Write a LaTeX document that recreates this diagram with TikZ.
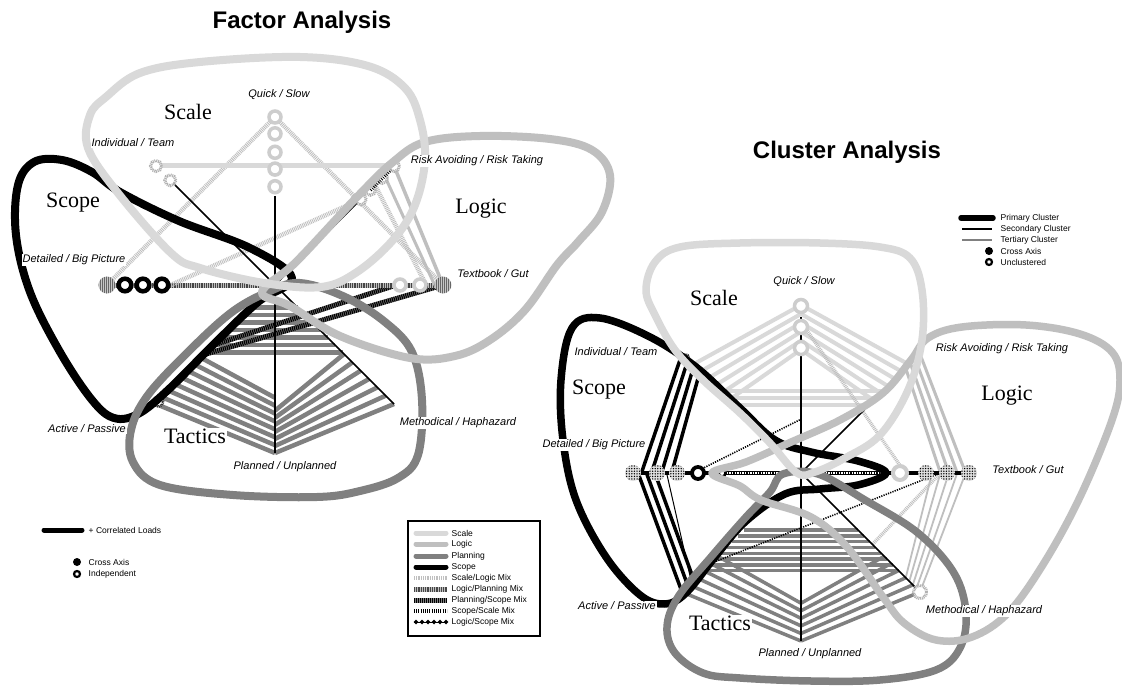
\documentclass[tikz,border=0pt]{standalone}
\usepackage{fontspec}
\setmainfont{Liberation Sans}
\newfontfamily\serifF{Liberation Serif}
\usetikzlibrary{calc,patterns.meta}
\definecolor{cScale}{HTML}{D9D9D9}
\definecolor{cLogic}{HTML}{BFBFBF}
\definecolor{cPlan}{HTML}{808080}
\definecolor{cRing}{HTML}{CDCDCD}
\tikzset{
 lp/.style={line width=8pt, line join=round},
 lab/.style={font=\fontsize{11}{13}\selectfont\itshape, fill=white, inner sep=0.8pt},
 big/.style={font=\serifF\fontsize{22}{26}\selectfont, fill=white, inner sep=1pt},
 ttl/.style={font=\bfseries\fontsize{24}{28}\selectfont, inner sep=0pt},
 leg/.style={font=\fontsize{8.5}{10}\selectfont, anchor=west, inner sep=0.5pt},
 planW/.style={draw=cPlan, line width=4.5pt},
 scaleW/.style={draw=cScale, line width=4pt},
 logicW/.style={draw=cLogic, line width=3pt},
 scopeW/.style={draw=black, line width=3.5pt},
 thinB/.style={draw=black, line width=1.5pt},
 dotB/.style={draw=black, line width=1.6pt, dash pattern=on 1.2pt off 1.2pt},
 mixSL/.style={draw=gray!50, line width=4.5pt, dash pattern=on 0.9pt off 0.9pt},
 mixLP/.style={draw=cLogic, line width=5pt, postaction={draw=gray!55!black, line width=5pt, dash pattern=on 0.9pt off 0.9pt}},
 mixPS/.style={draw=cPlan, line width=5pt, postaction={draw=black, line width=5pt, dash pattern=on 1.2pt off 0.8pt}},
 mixSS/.style={draw=black, line width=4.5pt, dash pattern=on 0.8pt off 1.4pt},
 mixLSsw/.style={draw=black, line width=1pt},
 ringS/.style={draw=cRing, line width=3.5pt, fill=white},
 ringH/.style={draw=gray!60, line width=3pt, fill=white, dash pattern=on 1pt off 0.8pt},
 ringHD/.style={draw=gray!40!black, line width=2.5pt, fill=white, dash pattern=on 1pt off 0.8pt},
 ringB/.style={draw=black, line width=4.5pt, fill=white},
 hatD/.style={fill=gray!45, postaction={pattern={Lines[angle=90,distance=2pt,line width=0.9pt]}, pattern color=black!60}},
 dotD/.style={fill=gray!25, postaction={pattern={Dots[distance=2.6pt,radius=0.75pt]}, pattern color=black}},
}
\begin{document}
\begin{tikzpicture}[x=1pt,y=-1pt]
\useasboundingbox[fill=white] (0,0) rectangle (1122,687);

% ================= LEFT: FACTOR ANALYSIS =================
\coordinate (L0) at (275,285);
\coordinate (LQ) at (275,117);
\coordinate (LR) at (394,166);
\coordinate (LT) at (443,285);
\coordinate (LM) at (394,404);
\coordinate (LP) at (275,453);
\coordinate (LA) at (156,404);
\coordinate (LD) at (107,285);
\coordinate (LI) at (156,166);

% planning stripes
\foreach \k [evaluate=\k as \fa using 1-0.055*\k, evaluate=\k as \fb using 1-0.047*\k] in {0,...,7}
  \draw[planW] ($(L0)!\fa!(LA)$) -- ($(L0)!\fb!(LP)$);
\foreach \k [evaluate=\k as \fa using 1-0.042*\k, evaluate=\k as \fb using 1-0.07*\k] in {0,...,6}
  \draw[planW] ($(L0)!\fa!(LP)$) -- ($(L0)!\fb!(LM)$);
\foreach \k [evaluate=\k as \fa using 0.19+0.063*\k] in {0,...,6}
  \draw[planW] ($(L0)!\fa!(LA)$) -- ($(L0)!\fa!(LM)$);

% mixed lines
\draw[mixPS] (LT) -- ($(L0)!0.58!(LA)$);
\draw[mixPS] ($(L0)!0.72!(LT)$) -- ($(L0)!0.5!(LA)$);
\draw[mixLP] (LD) -- (LT);
\draw[mixSL] (LQ) -- (LD);
\draw[mixSL] (LQ) -- (LT);
\draw[mixSL] ($(L0)!0.72!(LR)$) -- ($(L0)!0.62!(LD)$);
\draw[draw=cLogic, line width=3.5pt] (LR) -- (LT);
\draw[draw=cLogic, line width=3pt] ($(L0)!0.92!(LR)$) -- ($(L0)!0.95!(LT)$);
\draw[mixSL] ($(L0)!0.84!(LR)$) -- ($(L0)!0.9!(LT)$);
\draw[scaleW, line width=5pt] (LI) -- (LR);

% black thin
\draw[thinB] ($(L0)!0.53!(LQ)$) -- (LP);
\draw[thinB] (L0) -- ($(L0)!0.88!(LI)$);
\draw[thinB] (L0) -- ($(L0)!0.7!(LR)$);
\draw[thinB] (L0) -- (LM);
\draw[thinB] (L0) -- ($(L0)!0.97!(LA)$);

% circles
\foreach \f in {1,0.9,0.79,0.69,0.585}
  \draw[ringS] ($(L0)!\f!(LQ)$) circle (6pt);
\draw[ringH] (LI) circle (5.5pt);
\draw[ringH] ($(L0)!0.88!(LI)$) circle (5.5pt);
\foreach \f in {1,0.9,0.8,0.72}
  \draw[ringH] ($(L0)!\f!(LR)$) circle (5.5pt);
\draw[mixSS] ($(L0)!0.8!(LR)$) -- ($(L0)!0.97!(LR)$);
\path[hatD] (LD) circle (8.5pt);
\foreach \f in {0.893,0.786,0.673}
  \draw[ringB] ($(L0)!\f!(LD)$) circle (6.3pt);
\path[hatD] (LT) circle (8.5pt);
\foreach \f in {0.744,0.863}
  \draw[ringS] ($(L0)!\f!(LT)$) circle (6pt);
\draw[ringHD] ($(L0)!0.98!(LA)$) circle (5pt);

% loops
\draw[lp, black] plot[smooth cycle, tension=0.6] coordinates {(292,278) (250,248) (179,221) (120,192) (92,172) (62,160) (34,162) (18,185) (16,235) (30,292) (60,352) (92,400) (114,418) (138,414) (168,390) (215,343) (258,302)};
\draw[lp, cPlan] plot[smooth cycle, tension=0.6] coordinates {(268,292) (300,283) (345,297) (385,322) (412,352) (422,400) (418,455) (398,478) (360,491) (317,497) (233,495) (160,485) (133,462) (131,430) (148,395) (190,350) (232,312)};
\draw[lp, cLogic] plot[smooth cycle, tension=0.6] coordinates {(262,292) (296,262) (357,197) (393,162) (425,142) (480,136) (550,139) (592,150) (610,175) (602,212) (578,242) (557,265) (525,310) (490,340) (455,356) (410,358) (340,336) (290,306)};
\draw[lp, cScale] plot[smooth cycle, tension=0.6] coordinates {(264,283) (200,268) (171,253) (118,193) (88,148) (90,115) (106,97) (140,73) (200,62) (300,57) (368,66) (405,88) (420,120) (425,160) (415,205) (393,240) (357,272) (321,287)};

% labels
\node[ttl] (t1) at (302,22) {Factor Analysis};
\node[lab] (lq) at (279,95) {Quick / Slow};
\node[lab] (li) at (133,143) {Individual / Team};
\node[lab] (lr) at (477,161) {Risk Avoiding / Risk Taking};
\node[lab] (lt) at (493,274) {Textbook / Gut};
\node[lab] (ld) at (74,260) {Detailed / Big Picture};
\node[lab] (la) at (87,429) {Active / Passive};
\node[lab] (lm) at (458,423) {Methodical / Haphazard};
\node[lab] (lpl) at (285,467) {Planned / Unplanned};
\node[big] (bsc) at (188,112) {Scale};
\node[big] (bsp) at (73,203) {Scope};
\node[big] (blo) at (481,209) {Logic};
\node[big] (bta) at (195,436) {Tactics};

% left legends
\coordinate (c1a) at (44,530); \coordinate (c1b) at (82,530);
\draw[black, line width=5pt, line cap=round] (c1a) -- (c1b);
\node[leg] (g1) at (88,530) {+ Correlated Loads};
\fill[black] (77,562) circle (4pt);
\node[leg] (g2) at (88,562) {Cross Axis};
\draw[black, line width=2.2pt, fill=white] (77,574) circle (3pt);
\node[leg] (g3) at (88,574) {Independent};

\draw[black, line width=2pt] (408,521) rectangle (540,636);
\draw[cScale, line width=5pt, line cap=round] (416,533) -- (446,533);
\draw[cLogic, line width=5pt, line cap=round] (416,544) -- (446,544);
\draw[cPlan, line width=5pt, line cap=round] (416,556) -- (446,556);
\draw[black, line width=5pt, line cap=round] (416,567) -- (446,567);
\draw[mixSL] (414,578) -- (447,578);
\draw[mixLP] (414,589) -- (447,589);
\draw[mixPS] (414,600) -- (447,600);
\draw[mixSS] (414,611) -- (447,611);
\draw[mixLSsw] (414,622) -- (447,622);
\foreach \xx in {416,422,428,434,440,446}
  \fill[black] (\xx,619.5) -- (\xx+2.3,622) -- (\xx,624.5) -- (\xx-2.3,622) -- cycle;
\node[leg] (k1) at (451,533) {Scale};
\node[leg] (k2) at (451,544) {Logic};
\node[leg] (k3) at (451,556) {Planning};
\node[leg] (k4) at (451,567) {Scope};
\node[leg] (k5) at (451,578) {Scale/Logic Mix};
\node[leg] (k6) at (451,589) {Logic/Planning Mix};
\node[leg] (k7) at (451,600) {Planning/Scope Mix};
\node[leg] (k8) at (451,611) {Scope/Scale Mix};
\node[leg] (k9) at (451,622) {Logic/Scope Mix};

% ================= RIGHT: CLUSTER ANALYSIS =================
\coordinate (R0) at (801,473);
\coordinate (RQ) at (801,305);
\coordinate (RR) at (920,354);
\coordinate (RT) at (969,473);
\coordinate (RM) at (920,592);
\coordinate (RP) at (801,641);
\coordinate (RA) at (682,592);
\coordinate (RD) at (633,473);
\coordinate (RI) at (682,354);

\foreach \k [evaluate=\k as \fa using 1-0.053*\k, evaluate=\k as \fb using 0.91-0.06*\k] in {0,...,5} {
  \draw[scaleW] ($(R0)!\fa!(RQ)$) -- ($(R0)!\fb!(RI)$);
  \draw[scaleW] ($(R0)!\fa!(RQ)$) -- ($(R0)!\fb!(RR)$);
}
\foreach \f in {0.69,0.63,0.57}
  \draw[scaleW] ($(R0)!\f!(RI)$) -- ($(R0)!\f!(RR)$);
\foreach \k [evaluate=\k as \fa using 0.48+0.0486*\k] in {0,...,7}
  \draw[planW, line width=3.5pt] ($(R0)!\fa!(RA)$) -- ($(R0)!\fa!(RM)$);
\foreach \k [evaluate=\k as \fa using 1-0.06*\k, evaluate=\k as \fb using 1-0.045*\k] in {0,...,5} {
  \draw[planW, line width=3.5pt] ($(R0)!\fa!(RA)$) -- ($(R0)!\fb!(RP)$);
  \draw[planW, line width=3.5pt] ($(R0)!\fb!(RP)$) -- ($(R0)!\fa!(RM)$);
}
\foreach \k [evaluate=\k as \fa using 1-0.04*\k, evaluate=\k as \fb using 0.98-0.05*\k] in {0,...,3}
  \draw[logicW] ($(R0)!\fa!(RR)$) -- ($(R0)!\fb!(RT)$);
\foreach \k [evaluate=\k as \fa using 0.98-0.05*\k, evaluate=\k as \fb using 1-0.03*\k] in {0,...,4}
  \draw[logicW, line width=1.8pt] ($(R0)!\fa!(RT)$) -- ($(R0)!\fb!(RM)$);
\foreach \k [evaluate=\k as \fa using 1-0.05*\k, evaluate=\k as \fb using 0.95-0.06*\k] in {0,...,3}
  \draw[scopeW] ($(R0)!\fa!(RI)$) -- ($(R0)!\fb!(RD)$);
\foreach \k [evaluate=\k as \fa using 0.97-0.05*\k, evaluate=\k as \fb using 1-0.05*\k] in {0,1,2}
  \draw[scopeW] ($(R0)!\fa!(RD)$) -- ($(R0)!\fb!(RA)$);
\draw[thinB, line width=1pt] ($(R0)!0.8!(RD)$) -- ($(R0)!0.92!(RA)$);

\draw[mixSL, line width=3.5pt] ($(R0)!0.9!(RQ)$) -- ($(R0)!0.62!(RT)$);
\draw[mixSL, line width=3.5pt] ($(R0)!0.83!(RT)$) -- ($(R0)!0.6!(RM)$);
\draw[dotB] ($(R0)!0.64!(RD)$) -- ($(R0)!0.32!(RQ)$);
\draw[dotB] ($(R0)!0.83!(RT)$) -- ($(R0)!0.76!(RA)$);
\draw[thinB] ($(R0)!0.93!(RQ)$) -- (RP);
\draw[thinB] (R0) -- ($(R0)!0.97!(RR)$);
\draw[thinB] (R0) -- ($(R0)!0.98!(RM)$);
\draw[black, line width=3.5pt] (RD) -- (RT);
\draw[white, line width=1.3pt, dash pattern=on 1.3pt off 1.3pt] ($(R0)!0.55!(RD)$) -- ($(R0)!0.5!(RT)$);

% right circles
\foreach \f in {1,0.857,0.738}
  \path[dotD] ($(R0)!\f!(RD)$) circle (8pt);
\foreach \f in {1,0.869,0.744}
  \path[dotD] ($(R0)!\f!(RT)$) circle (8pt);
\draw[ringB, line width=3.8pt] ($(R0)!0.613!(RD)$) circle (6pt);
\draw[black, line width=2.5pt, fill=white] ($(R0)!0.47!(RD)$) circle (3.5pt);
\draw[ringS, line width=4pt] ($(R0)!0.589!(RT)$) circle (7pt);
\foreach \f in {0.994,0.869,0.744}
  \draw[ringS] ($(R0)!\f!(RQ)$) circle (6.5pt);
\draw[ringH, line width=3pt] (RM) circle (6.5pt);
\draw[ringHD, line width=2pt] ($(R0)!0.97!(RI)$) circle (3.5pt);

% right loops
\draw[lp, line width=7.5pt, black] plot[smooth cycle, tension=0.6] coordinates {(811,452) (858,461) (886,473) (858,485) (820,489) (785,494) (745,522) (715,557) (686,593) (665,604) (640,595) (606,557) (576,500) (563,440) (561,380) (572,328) (600,318) (650,337) (696,367) (739,407) (775,440)};
\draw[lp, line width=7.5pt, cPlan] plot[smooth cycle, tension=0.6] coordinates {(783,474) (818,474) (865,500) (918,533) (954,573) (966,613) (960,648) (936,670) (880,680) (811,681) (740,678) (703,673) (675,653) (667,627) (678,597) (711,557) (746,517) (770,492)};
\draw[lp, line width=7.5pt, cLogic] plot[smooth cycle, tension=0.6] coordinates {(712,473) (746,462) (789,443) (840,420) (883,393) (911,360) (928,338) (962,327) (1026,325) (1080,334) (1112,352) (1120,380) (1112,420) (1080,497) (1044,563) (1008,613) (972,637) (936,640) (904,623) (883,597) (847,547) (811,517) (761,500) (740,486)};
\draw[lp, line width=7.5pt, cScale] plot[smooth cycle, tension=0.6] coordinates {(797,473) (770,443) (740,413) (703,380) (675,350) (655,315) (646,290) (655,262) (680,247) (740,243) (820,243) (880,247) (910,258) (922,290) (922,340) (908,390) (880,435) (845,458) (815,472)};

% right labels
\node[ttl] (t2) at (847,152) {Cluster Analysis};
\node[lab] (rq) at (804,282) {Quick / Slow};
\node[lab] (ri) at (616,352) {Individual / Team};
\node[lab] (rr) at (1002,349) {Risk Avoiding / Risk Taking};
\node[lab] (rt) at (1028,470) {Textbook / Gut};
\node[lab] (rd) at (594,445) {Detailed / Big Picture};
\node[lab] (ra) at (617,606) {Active / Passive};
\node[lab] (rm) at (984,611) {Methodical / Haphazard};
\node[lab] (rpl) at (810,654) {Planned / Unplanned};
\node[big] (rbsc) at (714,298) {Scale};
\node[big] (rbsp) at (599,390) {Scope};
\node[big] (rblo) at (1007,396) {Logic};
\node[big] (rbta) at (720,623) {Tactics};

% right legend
\draw[black, line width=5.5pt, line cap=round] (961,218) -- (993,218);
\draw[black, line width=2.5pt] (962,229) -- (992,229);
\draw[cPlan, line width=2pt] (962,240) -- (992,240);
\fill[black] (989,251) circle (4pt);
\draw[black, line width=2.2pt, fill=white] (989,262) circle (3pt);
\node[leg] (p1) at (1000,218) {Primary Cluster};
\node[leg] (p2) at (1000,229) {Secondary Cluster};
\node[leg] (p3) at (1000,240) {Tertiary Cluster};
\node[leg] (p4) at (1000,251) {Cross Axis};
\node[leg] (p5) at (1000,262) {Unclustered};
\end{tikzpicture}
\end{document}
